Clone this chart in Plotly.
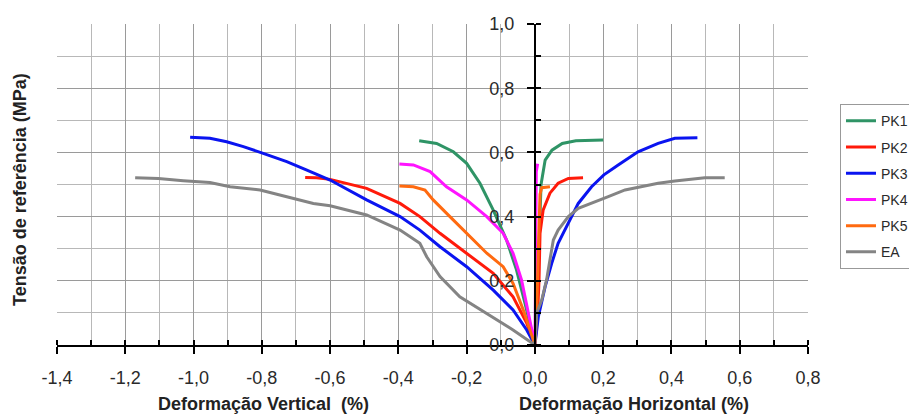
import plotly.graph_objects as go

# ---- data (deformation %, stress MPa) ----
pk1_vx = [-0.339, -0.288, -0.239, -0.200, -0.161, -0.122, -0.083, -0.054, -0.029, 0.0]
pk1_vy = [0.636, 0.628, 0.602, 0.566, 0.504, 0.420, 0.327, 0.234, 0.130, 0.0]
pk1_hx = [0.0, 0.005, 0.008, 0.010, 0.013, 0.018, 0.030, 0.050, 0.080, 0.120, 0.200]
pk1_hy = [0.0, 0.100, 0.200, 0.300, 0.400, 0.500, 0.576, 0.607, 0.628, 0.636, 0.639]

pk2_vx = [-0.673, -0.640, -0.600, -0.493, -0.395, -0.337, -0.278, -0.200, -0.122, -0.064, -0.024, 0.0]
pk2_vy = [0.522, 0.521, 0.516, 0.488, 0.441, 0.400, 0.348, 0.286, 0.223, 0.150, 0.068, 0.0]
pk2_hx = [0.0, 0.008, 0.012, 0.015, 0.024, 0.044, 0.068, 0.098, 0.141]
pk2_hy = [0.0, 0.100, 0.200, 0.348, 0.420, 0.473, 0.504, 0.519, 0.521]

pk3_vx = [-1.010, -0.952, -0.903, -0.854, -0.796, -0.727, -0.668, -0.600, -0.493, -0.395, -0.337, -0.278, -0.200, -0.122, -0.064, -0.024, 0.0]
pk3_vy = [0.647, 0.644, 0.633, 0.618, 0.597, 0.571, 0.545, 0.514, 0.452, 0.400, 0.358, 0.306, 0.244, 0.171, 0.109, 0.047, 0.0]
pk3_hx = [0.0, 0.010, 0.030, 0.049, 0.068, 0.098, 0.127, 0.166, 0.202, 0.244, 0.302, 0.361, 0.410, 0.476]
pk3_hy = [0.0, 0.088, 0.182, 0.254, 0.317, 0.379, 0.441, 0.493, 0.530, 0.561, 0.602, 0.628, 0.644, 0.646]

pk4_vx = [-0.397, -0.356, -0.307, -0.259, -0.200, -0.141, -0.093, -0.064, -0.039, -0.020, 0.0]
pk4_vy = [0.564, 0.561, 0.540, 0.493, 0.452, 0.400, 0.348, 0.286, 0.202, 0.099, 0.0]
pk4_hx = [0.0, 0.001, 0.002, 0.003, 0.004, 0.008]
pk4_hy = [0.0, 0.100, 0.300, 0.450, 0.540, 0.565]

pk5_vx = [-0.397, -0.356, -0.322, -0.298, -0.249, -0.200, -0.141, -0.093, -0.064, -0.034, 0.0]
pk5_vy = [0.495, 0.493, 0.483, 0.452, 0.400, 0.348, 0.286, 0.244, 0.192, 0.109, 0.0]
pk5_hx = [0.0, 0.005, 0.008, 0.010, 0.012, 0.015, 0.020, 0.044]
pk5_hy = [0.0, 0.100, 0.200, 0.300, 0.400, 0.470, 0.490, 0.493]

ea_vx = [-1.171, -1.103, -1.030, -0.952, -0.893, -0.805, -0.727, -0.649, -0.600, -0.493, -0.395, -0.337, -0.317, -0.278, -0.220, -0.141, -0.064, 0.0]
ea_vy = [0.521, 0.519, 0.512, 0.506, 0.493, 0.483, 0.462, 0.441, 0.434, 0.405, 0.358, 0.317, 0.275, 0.213, 0.150, 0.099, 0.047, 0.0]
ea_hx = [0.0, 0.005, 0.020, 0.034, 0.044, 0.054, 0.068, 0.098, 0.127, 0.166, 0.215, 0.264, 0.312, 0.361, 0.410, 0.459, 0.498, 0.556]
ea_hy = [0.0, 0.099, 0.140, 0.202, 0.265, 0.327, 0.358, 0.400, 0.426, 0.441, 0.462, 0.483, 0.493, 0.504, 0.511, 0.517, 0.521, 0.521]

series = [
    ("PK1", pk1_vx, pk1_vy, pk1_hx, pk1_hy, "#2f9466"),
    ("PK2", pk2_vx, pk2_vy, pk2_hx, pk2_hy, "#ff1a0a"),
    ("PK3", pk3_vx, pk3_vy, pk3_hx, pk3_hy, "#0a14f0"),
    ("PK4", pk4_vx, pk4_vy, pk4_hx, pk4_hy, "#ff14ff"),
    ("PK5", pk5_vx, pk5_vy, pk5_hx, pk5_hy, "#ff6a10"),
    ("EA", ea_vx, ea_vy, ea_hx, ea_hy, "#848484"),
]

x_ticks = [-1.4, -1.2, -1.0, -0.8, -0.6, -0.4, -0.2, 0.0, 0.2, 0.4, 0.6, 0.8]
x_ticklabels = ["-1,4", "-1,2", "-1,0", "-0,8", "-0,6", "-0,4", "-0,2", "0,0", "0,2", "0,4", "0,6", "0,8"]
y_ticks = [0.0, 0.2, 0.4, 0.6, 0.8, 1.0]
y_ticklabels = ["0,0", "0,2", "0,4", "0,6", "0,8", "1,0"]

FONT = "Liberation Sans, Arial, sans-serif"

fig = go.Figure()
for name, vx, vy, hx, hy, col in series:
    fig.add_trace(go.Scatter(
        x=vx + hx[1:], y=vy + hy[1:], mode="lines", name=name,
        legendgroup=name,
        line=dict(color=col, width=3),
    ))

grid_col = "#9a9a9a"
fig.update_layout(
    width=909, height=418,
    paper_bgcolor="white", plot_bgcolor="white",
    font=dict(family=FONT, size=18, color="#2a2a2a"),
    margin=dict(l=57, r=101, t=24, b=73, autoexpand=False),
    showlegend=True,
    legend=dict(
        x=1.0426, y=0.75, xanchor="left", yanchor="top",
        bordercolor="#999", borderwidth=1, bgcolor="white",
        font=dict(family=FONT, size=14, color="#2a2a2a"),
        tracegroupgap=5,
    ),
    xaxis=dict(
        range=[-1.4, 0.8], tickvals=x_ticks, ticktext=x_ticklabels,
        showline=True, linecolor="black", linewidth=2,
        ticks="outside", ticklen=7, tickwidth=2, tickcolor="black",
        ticklabelstandoff=8,
        showgrid=True, gridcolor=grid_col, gridwidth=1,
        minor=dict(dtick=0.1, tick0=0, ticks="inside", ticklen=5, tickwidth=2,
                   tickcolor="black", showgrid=True, gridcolor="#b8b8b8", gridwidth=1),
        zeroline=False,
        tickfont=dict(size=18, color="#2a2a2a"),
    ),
    yaxis=dict(
        range=[0, 1.0], tickvals=y_ticks, ticktext=y_ticklabels,
        anchor="free", position=1.4 / 2.2, side="left",
        showline=True, linecolor="black", linewidth=2,
        ticks="outside", ticklen=7, tickwidth=2, tickcolor="black",
        ticklabelstandoff=9,
        showgrid=True, gridcolor=grid_col, gridwidth=1,
        minor=dict(dtick=0.1, tick0=0, ticks="inside", ticklen=5, tickwidth=2,
                   tickcolor="black", showgrid=True, gridcolor="#b8b8b8", gridwidth=1),
        zeroline=False,
        tickfont=dict(size=18, color="#2a2a2a"),
    ),
)

TFS = 18
fig.add_annotation(text="<b>Deformação Vertical  (%)</b>", xref="paper", yref="paper",
                   x=(263 - 57) / 751, y=-(404 - 345) / 321, showarrow=False,
                   font=dict(family=FONT, size=TFS, color="#222"), xanchor="center", yanchor="middle")
fig.add_annotation(text="<b>Deformação Horizontal (%)</b>", xref="paper", yref="paper",
                   x=(634 - 57) / 751, y=-(404 - 345) / 321, showarrow=False,
                   font=dict(family=FONT, size=TFS, color="#222"), xanchor="center", yanchor="middle")
fig.add_annotation(text="<b>Tensão de referência (MPa)</b>", xref="paper", yref="paper",
                   x=-(57 - 20) / 751, y=(345 - 190) / 321, showarrow=False, textangle=-90,
                   font=dict(family=FONT, size=TFS, color="#222"), xanchor="center", yanchor="middle")

fig.write_html("out.html", config={"displayModeBar": False},
               post_script="document.body.style.margin='0';document.body.style.padding='0';")
